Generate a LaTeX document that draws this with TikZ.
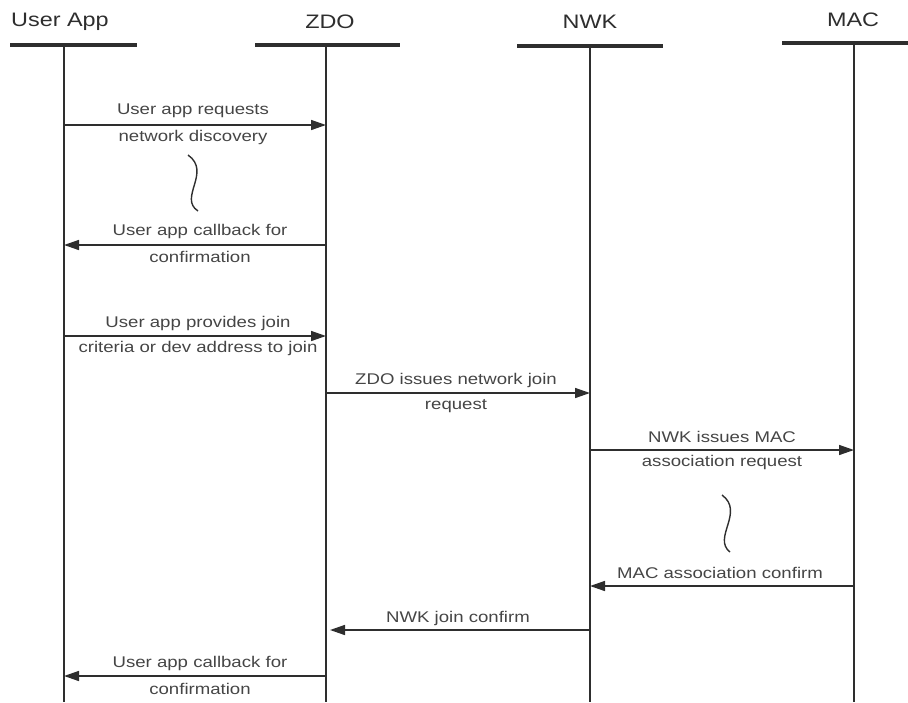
\documentclass[tikz,border=0pt]{standalone}
\usepackage{fontspec}
\setmainfont{Liberation Sans}
\newfontfamily\lblfont[FakeStretch=1.2]{Liberation Sans}
\usetikzlibrary{arrows.meta}
\definecolor{ink}{HTML}{2E2E2E}
\definecolor{txt}{HTML}{454545}
\tikzset{
  headtxt/.style={font=\lblfont\fontsize{19.5}{22}\selectfont, text=ink, inner sep=0pt},
  headbar/.style={draw=ink, line width=4pt},
  lifeline/.style={draw=ink, line width=2.2pt},
  msg/.style={draw=ink, line width=1.5pt, -{Triangle[length=15pt,width=10pt]}},
  lbl/.style={font=\lblfont\fontsize{15.5}{18}\selectfont, text=txt, inner sep=0pt},
  squig/.style={draw=ink, line width=1.4pt}
}
\begin{document}
\begin{tikzpicture}[x=1pt,y=-1pt]
\useasboundingbox (0,0) rectangle (908,702);
% headers
\node[headtxt] (hU) at (60,22) {User App};
\node[headtxt] (hZ) at (330,22) {ZDO};
\node[headtxt] (hN) at (590,22) {NWK};
\node[headtxt] (hM) at (853,20) {MAC};
\draw[headbar] (10,45) -- (137,45);
\draw[headbar] (255,45) -- (400,45);
\draw[headbar] (517,46) -- (663,46);
\draw[headbar] (782,43) -- (908,43);
% lifelines
\coordinate (Ut) at (64,45);  \coordinate (Ub) at (64,702);
\coordinate (Zt) at (326,45); \coordinate (Zb) at (326,702);
\coordinate (Nt) at (590,46); \coordinate (Nb) at (590,702);
\coordinate (Mt) at (854,43); \coordinate (Mb) at (854,702);
\draw[lifeline] (Ut) -- (Ub);
\draw[lifeline] (Zt) -- (Zb);
\draw[lifeline] (Nt) -- (Nb);
\draw[lifeline] (Mt) -- (Mb);
% message 1
\coordinate (m1a) at (64,125); \coordinate (m1b) at (326,125);
\draw[msg] (m1a) -- (m1b);
\node[lbl] (l1a) at (193,111) {User app requests};
\node[lbl] (l1b) at (193,137) {network discovery};
\draw[squig] (188,155) .. controls (212,172) and (178,198) .. (198,211);
% message 2
\coordinate (m2a) at (326,245); \coordinate (m2b) at (64,245);
\draw[msg] (m2a) -- (m2b);
\node[lbl] (l2a) at (200,231) {User app callback for};
\node[lbl] (l2b) at (200,257) {confirmation};
% message 3
\coordinate (m3a) at (64,336); \coordinate (m3b) at (326,336);
\draw[msg] (m3a) -- (m3b);
\node[lbl] (l3a) at (198,323) {User app provides join};
\node[lbl] (l3b) at (198,348) {criteria or dev address to join};
% message 4
\coordinate (m4a) at (326,393); \coordinate (m4b) at (590,393);
\draw[msg] (m4a) -- (m4b);
\node[lbl] (l4a) at (456,380) {ZDO issues network join};
\node[lbl] (l4b) at (456,406) {request};
% message 5
\coordinate (m5a) at (590,450); \coordinate (m5b) at (854,450);
\draw[msg] (m5a) -- (m5b);
\node[lbl] (l5a) at (722,437) {NWK issues MAC};
\node[lbl] (l5b) at (722,462) {association request};
\draw[squig] (722,495) .. controls (745,512) and (712,538) .. (730,552);
% message 6
\coordinate (m6a) at (854,586); \coordinate (m6b) at (590,586);
\draw[msg] (m6a) -- (m6b);
\node[lbl] (l6a) at (720,573) {MAC association confirm};
% message 7
\coordinate (m7a) at (590,630); \coordinate (m7b) at (330,630);
\draw[msg] (m7a) -- (m7b);
\node[lbl] (l7a) at (458,618) {NWK join confirm};
% message 8
\coordinate (m8a) at (326,676); \coordinate (m8b) at (64,676);
\draw[msg] (m8a) -- (m8b);
\node[lbl] (l8a) at (200,663) {User app callback for};
\node[lbl] (l8b) at (200,689) {confirmation};
\end{tikzpicture}
\end{document}
